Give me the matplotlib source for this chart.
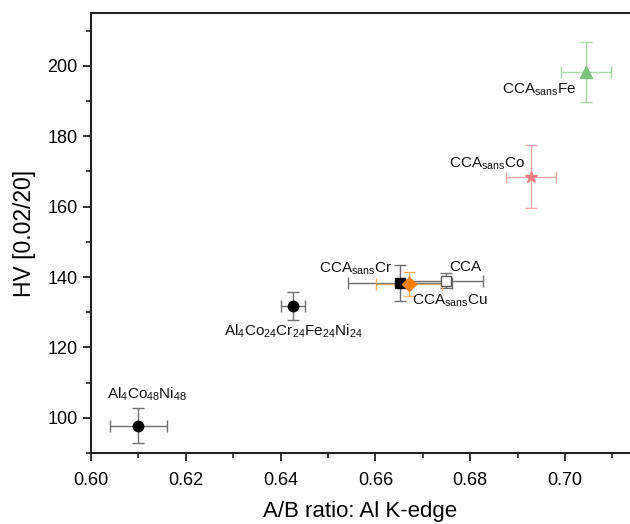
import matplotlib
matplotlib.use("Agg")
import matplotlib.pyplot as plt
from matplotlib.ticker import MultipleLocator, FormatStrFormatter

plt.rcParams['font.family'] = ['Liberation Sans', 'DejaVu Sans']
plt.rcParams['mathtext.fontset'] = 'custom'
plt.rcParams['mathtext.rm'] = 'Liberation Sans'
plt.rcParams['mathtext.it'] = 'Liberation Sans'

# Alloys: A/B ratio (Al K-edge) vs hardness
labels = [r'Al$_4$Co$_{48}$Ni$_{48}$',
          r'Al$_4$Co$_{24}$Cr$_{24}$Fe$_{24}$Ni$_{24}$',
          r'CCA$_{\mathrm{sans}}$Cr',
          r'CCA',
          r'CCA$_{\mathrm{sans}}$Cu',
          r'CCA$_{\mathrm{sans}}$Co',
          r'CCA$_{\mathrm{sans}}$Fe']
ab_ratio = [0.610, 0.6426, 0.6652, 0.6749, 0.6671, 0.6928, 0.7044]
ab_err = [0.006, 0.0025, 0.011, 0.0078, 0.007, 0.0053, 0.0052]
hv = [97.8, 131.8, 138.3, 139.0, 138.0, 168.5, 198.2]
hv_err = [5.0, 4.0, 5.0, 2.0, 3.5, 9.0, 8.5]

styles = [
    dict(marker='o', mfc='black', mec='black', ms=7.5, ecolor='#707070'),
    dict(marker='o', mfc='black', mec='black', ms=7.5, ecolor='#707070'),
    dict(marker='s', mfc='black', mec='black', ms=7.0, ecolor='#707070'),
    dict(marker='s', mfc='white', mec='#555555', ms=7.0, ecolor='#707070'),
    dict(marker='D', mfc='#ff7f00', mec='#ff7f00', ms=7.5, ecolor='#ffb060'),
    dict(marker='*', mfc='#f08080', mec='#f08080', ms=9.0, ecolor='#f7aaaa'),
    dict(marker='^', mfc='#7cc47c', mec='#7cc47c', ms=8.0, ecolor='#a8dca8'),
]
# label anchor offsets in points: (dx, dy, ha, va)
label_pos = [
    (6, 16, 'center', 'bottom'),
    (0, -12, 'center', 'top'),
    (-6, 4, 'right', 'bottom'),
    (2, 5, 'left', 'bottom'),
    (2, -6, 'left', 'top'),
    (-4.5, 3.5, 'right', 'bottom'),
    (-7, -7, 'right', 'top'),
]

fig = plt.figure(figsize=(6.3, 5.24), dpi=100)
ax = fig.add_axes([91/630, 71/524, (630-91)/630, (453-13)/524])

order = [0, 1, 3, 2, 4, 5, 6]
for i in order:
    st = styles[i]
    ax.errorbar(ab_ratio[i], hv[i], xerr=ab_err[i], yerr=hv_err[i],
                fmt='none', ecolor=st['ecolor'], elinewidth=1.0,
                capsize=4, capthick=1.0, zorder=2)
for i in order:
    st = styles[i]
    ax.plot(ab_ratio[i], hv[i], linestyle='none', marker=st['marker'],
            mfc=st['mfc'], mec=st['mec'], ms=st['ms'], mew=1.0, zorder=3)

for i, lab in enumerate(labels):
    dx, dy, ha, va = label_pos[i]
    ax.annotate(lab, (ab_ratio[i], hv[i]), xytext=(dx, dy),
                textcoords='offset points', ha=ha, va=va, fontsize=11,
                color='#111111')

ax.set_xlim(0.60, 0.7137)
ax.set_ylim(90, 215)
ax.xaxis.set_major_locator(MultipleLocator(0.02))
ax.xaxis.set_minor_locator(MultipleLocator(0.01))
ax.yaxis.set_major_locator(MultipleLocator(20))
ax.yaxis.set_minor_locator(MultipleLocator(10))
ax.xaxis.set_major_formatter(FormatStrFormatter('%.2f'))

ax.spines['right'].set_visible(False)
for s in ('left', 'bottom', 'top'):
    ax.spines[s].set_linewidth(1.5)
    ax.spines[s].set_color('#222222')
ax.tick_params(which='major', direction='out', length=6, width=1.3,
               labelsize=13, color='#222222')
ax.tick_params(which='minor', direction='out', length=3.5, width=1.2,
               color='#222222')
ax.tick_params(axis='x', pad=8)

ax.set_xlabel('A/B ratio: Al K-edge', fontsize=16, labelpad=8)
ax.set_ylabel('HV [0.02/20]', fontsize=16.5, labelpad=8)

fig.savefig('out.png', dpi=100)
